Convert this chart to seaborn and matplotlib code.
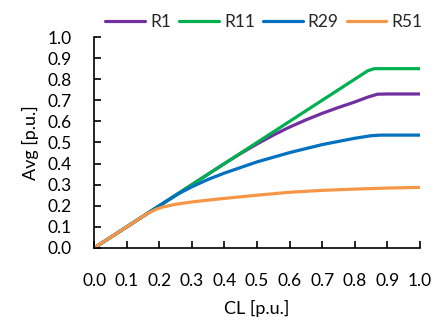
import numpy as np
import pandas as pd
import matplotlib
matplotlib.use("Agg")
import matplotlib.pyplot as plt
import seaborn as sns

series = ["R1", "R11", "R29", "R51"]
colors = ["#7030A0", "#00B050", "#0070C0", "#F79646"]

r1_x = [0.0, 0.1, 0.2, 0.3, 0.4, 0.45, 0.5, 0.55, 0.6, 0.65, 0.7, 0.75, 0.8, 0.84, 0.87, 0.9, 1.0]
r1_y = [0.0, 0.1, 0.2, 0.3, 0.4, 0.448, 0.493, 0.535, 0.573, 0.607, 0.638, 0.666, 0.692, 0.715, 0.729, 0.73, 0.73]

r11_x = [0.0, 0.2, 0.4, 0.6, 0.8, 0.84, 0.86, 0.88, 1.0]
r11_y = [0.0, 0.2, 0.4, 0.6, 0.8, 0.84, 0.85, 0.85, 0.85]

r29_x = [0.0, 0.1, 0.2, 0.26, 0.3, 0.35, 0.4, 0.5, 0.6, 0.7, 0.8, 0.85, 0.88, 0.9, 1.0]
r29_y = [0.0, 0.1, 0.2, 0.258, 0.29, 0.325, 0.355, 0.408, 0.452, 0.49, 0.52, 0.532, 0.535, 0.535, 0.535]

r51_x = [0.0, 0.1, 0.16, 0.19, 0.21, 0.25, 0.3, 0.4, 0.5, 0.6, 0.7, 0.8, 0.9, 1.0]
r51_y = [0.0, 0.1, 0.16, 0.183, 0.194, 0.207, 0.218, 0.235, 0.25, 0.264, 0.273, 0.279, 0.284, 0.287]

xs = [r1_x, r11_x, r29_x, r51_x]
ys = [r1_y, r11_y, r29_y, r51_y]

df = pd.concat(
    [pd.DataFrame({"CL": x, "Avg": y, "series": s}) for s, x, y in zip(series, xs, ys)],
    ignore_index=True,
)

sns.set_theme(style="white")
plt.rcParams["font.family"] = ["Lato", "DejaVu Sans"]

fig = plt.figure(figsize=(4.36, 3.22), dpi=100)
ax = fig.add_axes([0.216, 0.230, 0.747, 0.655])

sns.lineplot(data=df, x="CL", y="Avg", hue="series", hue_order=series,
             palette=colors, linewidth=2.3, sort=False, ax=ax, legend=True)

ax.set_xlim(0, 1.0)
ax.set_ylim(0, 1.0)
ticks = np.round(np.arange(0, 1.01, 0.1), 1)
ax.set_xticks(ticks)
ax.set_yticks(ticks)
ax.set_xticklabels([f"{t:.1f}" for t in ticks])
ax.set_yticklabels([f"{t:.1f}" for t in ticks])
ax.tick_params(axis="both", direction="in", length=5, width=1.2, color="black",
               labelsize=12.5, labelcolor="black")
ax.tick_params(axis="x", pad=18, bottom=True)
ax.tick_params(axis="y", pad=16, left=True)
for s in ["top", "right"]:
    ax.spines[s].set_visible(False)
for s in ["left", "bottom"]:
    ax.spines[s].set_color("black")
    ax.spines[s].set_linewidth(1.2)

ax.set_xlabel("CL [p.u.]", fontsize=13, color="black", labelpad=8)
ax.set_ylabel("Avg [p.u.]", fontsize=13, color="black", labelpad=6)

handles, labels = ax.get_legend_handles_labels()
ax.legend(handles, labels, loc="lower right", bbox_to_anchor=(1.03, 1.0), ncol=4,
          frameon=False, fontsize=12.5, handlelength=2.3, handletextpad=0.3,
          columnspacing=0.45, borderaxespad=0.2, borderpad=0.2)

fig.savefig("out.png", dpi=100)
